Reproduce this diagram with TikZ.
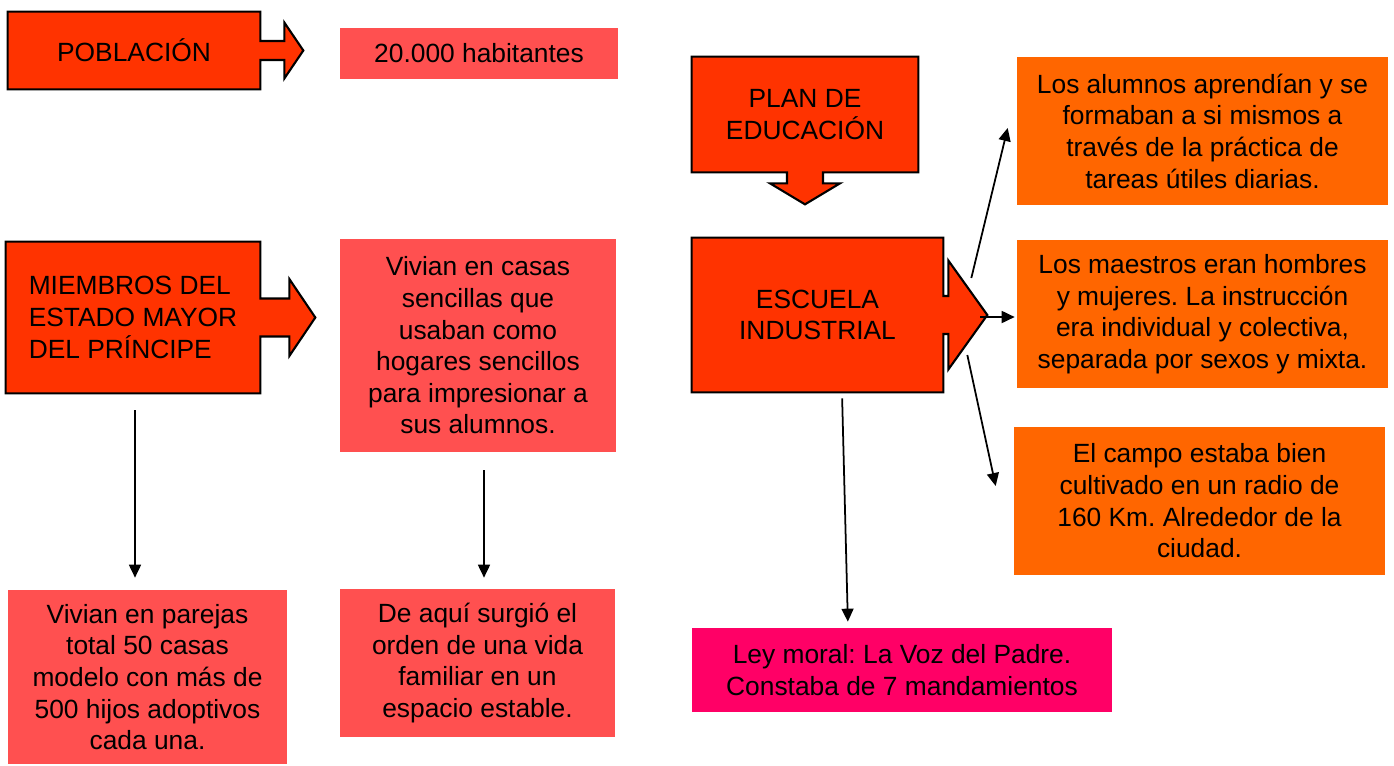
\documentclass[tikz,border=0pt]{standalone}
\usepackage{fontspec}
\setmainfont{Liberation Sans}
\frenchspacing
\usepackage{xcolor}
\definecolor{colorMain}{HTML}{FF3300}
\definecolor{colorNote}{HTML}{FF5050}
\definecolor{colorSchool}{HTML}{FF6600}
\definecolor{colorLaw}{HTML}{FF0066}
\usepackage{tikz}
\usetikzlibrary{arrows.meta, calc, backgrounds}
\tikzset{
  box/.style={align=center, inner sep=0pt, font=\fontsize{15}{18}\selectfont},
  mainbox/.style={draw=black, fill=colorMain, line width=1.2pt, line join=miter},
  link/.style={->, line width=1pt}
}
% box with an arrow tab on its right side: node, stem half, head x, head half, tip x
\newcommand{\arrowbox}[5]{%
  \draw[mainbox] (#1.north west) -- (#1.north east) -- ($(#1.east)+(0,-#2)$)
    -- ($(#1.east)+(#3,-#2)$) -- ($(#1.east)+(#3,-#4)$) -- ($(#1.east)+(#5,0)$)
    -- ($(#1.east)+(#3,#4)$) -- ($(#1.east)+(#3,#2)$) -- ($(#1.east)+(0,#2)$)
    -- (#1.south east) -- (#1.south west) -- cycle;}

\begin{document}
\begin{tikzpicture}[x=0.02cm, y=-0.02cm, >={Triangle[length=0.26cm, width=0.24cm]}]
\useasboundingbox (0,0) rectangle (1394,765);
% left column
\node[box, minimum width=5.04cm, minimum height=1.54cm] (pob) at (134,50.5) {POBLACIÓN};
\node[box, fill=colorNote, minimum width=5.56cm, minimum height=1.02cm] (hab) at (479,53.5) {20.000 habitantes};
\node[box, align=left, minimum width=5.08cm, minimum height=3.02cm] (miem) at (133,317.5) {MIEMBROS DEL\\ESTADO MAYOR\\DEL PRÍNCIPE};
\node[box, fill=colorNote, minimum width=5.52cm, minimum height=4.26cm] (casas) at (478,345.5) {Vivian en casas\\sencillas que\\usaban como\\hogares sencillos\\para impresionar a\\sus alumnos.};
\node[box, fill=colorNote, minimum width=5.58cm, minimum height=3.48cm] (parejas) at (147.5,677) {Vivian en parejas\\total 50 casas\\modelo con más de\\500 hijos adoptivos\\cada una.};
\node[box, fill=colorNote, minimum width=5.5cm, minimum height=2.96cm] (orden) at (477.5,663) {De aquí surgió el\\orden de una vida\\familiar en un\\espacio estable.};
% right part
\node[box, minimum width=4.52cm, minimum height=2.3cm] (plan) at (805,114.5) {PLAN DE\\EDUCACIÓN};
\node[box, minimum width=5.02cm, minimum height=3.08cm] (escuela) at (817.5,315) {ESCUELA\\INDUSTRIAL};
\node[box, fill=colorSchool, minimum width=7.42cm, minimum height=2.96cm] (alumnos) at (1202.5,131) {Los alumnos aprendían y se\\formaban a si mismos a\\través de la práctica de\\tareas útiles diarias.};
\node[box, fill=colorSchool, minimum width=7.42cm, minimum height=2.96cm] (maestros) at (1202.5,314) {Los maestros eran hombres\\y mujeres. La instrucción\\era individual y colectiva,\\separada por sexos y mixta.};
\node[box, fill=colorSchool, minimum width=7.42cm, minimum height=2.96cm] (campo) at (1199.5,501) {El campo estaba bien\\cultivado en un radio de\\160 Km. Alrededor de la\\ciudad.};
\node[box, fill=colorLaw, minimum width=8.4cm, minimum height=1.68cm] (ley) at (902,670) {Ley moral: La Voz del Padre.\\Constaba de 7 mandamientos};

\begin{scope}[on background layer]
\arrowbox{pob}{9.5}{24}{28}{43}
\arrowbox{miem}{19}{29}{38.5}{55}
\arrowbox{escuela}{19}{5}{54.5}{44}
\draw[mainbox] (plan.north west) -- (plan.north east) -- (plan.south east)
  -- ($(plan.south)+(18,0)$) -- ($(plan.south)+(18,11)$) -- ($(plan.south)+(35,11)$)
  -- ($(plan.south)+(0,32)$) -- ($(plan.south)+(-35,11)$) -- ($(plan.south)+(-18,11)$)
  -- ($(plan.south)+(-18,0)$) -- (plan.south west) -- cycle;
\end{scope}

\draw[link, shorten <=0.34cm, shorten >=0.24cm] ([xshift=0.04cm]miem.south) -- ([xshift=0.04cm]miem.south |- parejas.north);
\draw[link, shorten <=0.36cm, shorten >=0.22cm] ([xshift=0.12cm]casas.south) -- ([xshift=0.12cm]casas.south |- orden.north);
\draw[link, shorten <=0.12cm, shorten >=0.12cm] ([xshift=0.49cm]escuela.south) -- ([xshift=-1.08cm]ley.north);
\draw[link] ($(escuela.east)+(28,-37)$) -- ($(alumnos.west)+(-9,-3)$);
\draw[link] ($(escuela.east)+(37,2)$) -- ($(maestros.west)+(-2,3)$);
\draw[link] ($(escuela.east)+(24,40)$) -- ($(campo.west)+(-18,-15)$);
\end{tikzpicture}
\end{document}
